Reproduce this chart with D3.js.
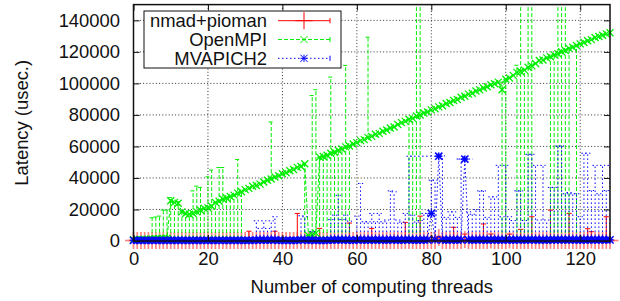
<!DOCTYPE html>
<html>
<head>
<meta charset="utf-8">
<script src="https://cdn.jsdelivr.net/npm/d3@7"></script>
<style>
body { margin: 0; background: #fff; }
text { font-family: "Liberation Sans", Arial, sans-serif; fill: #111; }
</style>
</head>
<body>
<svg id="chart" width="620" height="301"></svg>
<script>
// thread counts on x, one point per thread count
var threads = d3.range(0, 129);
var xTicks = [0, 20, 40, 60, 80, 100, 120];
var yTicks = [0, 20000, 40000, 60000, 80000, 100000, 120000, 140000];

// nmad+pioman mean latency
var npLatency = [
  310, 290, 320, 300, 280, 330, 310, 300, 290, 320, 300, 310, 280, 300, 320, 310,
  300, 290, 310, 320, 300, 280, 310, 300, 330, 300, 290, 310, 300, 320, 310, 350,
  300, 310, 290, 320, 300, 310, 340, 300, 290, 310, 300, 320, 380, 300, 310, 290,
  300, 320, 360, 300, 290, 310, 300, 320, 300, 290, 400, 310, 300, 320, 290, 300,
  350, 300, 310, 290, 320, 300, 310, 300, 290, 380, 300, 310, 320, 390, 300, 290,
  310, 300, 2200, 300, 320, 290, 360, 300, 310, 900, 300, 290, 320, 310, 370, 300,
  700, 290, 320, 300, 310, 700, 300, 290, 360, 300, 310, 380, 300, 290, 320, 310,
  400, 300, 290, 310, 320, 390, 300, 310, 290, 300, 350, 700, 300, 310, 290, 380,
  300
];
// [thread, upper end of error bar]
var npErr = [
  [31, 6200], [38, 6200], [44, 17500], [50, 8000], [58, 11400], [64, 8000],
  [73, 11800], [77, 15800], [82, 3000], [86, 8700], [89, 4400], [94, 10800],
  [96, 4400], [101, 4400], [104, 7400], [107, 15400], [112, 19600], [117, 17500],
  [122, 7800], [123, 5900], [127, 15400]
];

// OpenMPI mean latency
var omLatency = [
  800, 900, 1000, 1100, 1200, 1300, 1400, 1500, 1600, 1700, 25500, 24500, 24000, 18500, 17500, 17000,
  17500, 18500, 19500, 20700, 21000, 22000, 24500, 25200, 26700, 27300, 28200, 29100, 30400, 31300, 32600, 33400,
  34700, 35200, 36100, 37400, 38600, 39300, 40600, 41400, 42700, 43300, 44600, 45400, 46700, 47300, 49000, 3500,
  4000, 5000, 53200, 53600, 54400, 55700, 56300, 57600, 58400, 59700, 60300, 61600, 62400, 63700, 64300, 65600,
  66400, 67700, 68300, 69600, 70400, 71700, 72300, 73900, 75100, 75900, 77200, 77800, 79300, 79900, 81200, 81800,
  83200, 83900, 85100, 85800, 87200, 87900, 89100, 89800, 91200, 91900, 93200, 93800, 95200, 95900, 97100, 97900,
  99100, 99800, 100800, 96000, 102600, 103400, 105100, 107000, 107600, 108400, 110300, 111100, 112600, 114500, 114900, 116200,
  116900, 118100, 118800, 120100, 120900, 122200, 122900, 124000, 125100, 125900, 127100, 127800, 129100, 129800, 130600, 131400,
  132100
];
// [thread, low, high]
var omErr = [
  [5, 1300, 14700], [6, 1400, 15200], [7, 1500, 15800], [8, 1600, 19600], [9, 1700, 19600],
  [10, 1200, 27500], [11, 1200, 24500], [12, 1200, 25000], [13, 1200, 18500], [14, 1200, 17500],
  [15, 1200, 17000], [16, 1200, 31800], [17, 1200, 34800], [18, 1200, 34000], [19, 1200, 20700],
  [20, 1200, 40700], [21, 1200, 45000], [22, 1200, 24500], [23, 1200, 46600], [24, 1200, 46600],
  [25, 1200, 27300], [26, 1200, 28200], [27, 1200, 29100], [28, 1200, 51700], [29, 1200, 31300],
  [37, 39300, 75500],
  [46, 1200, 49000], [47, 1200, 3500], [48, 1200, 92300], [49, 1200, 96000], [50, 1200, 53200],
  [51, 1200, 53600], [52, 1200, 54400], [53, 1200, 104000], [54, 1200, 56300], [55, 1200, 57600],
  [56, 1200, 58400], [57, 1200, 111400], [58, 1200, 60300],
  [63, 65600, 129300],
  [74, 1200, 77200], [75, 1200, 77800], [76, 1200, 200000], [77, 1200, 200000],
  [99, 1200, 100800], [100, 1200, 102600], [103, 1200, 111500], [104, 1200, 200000],
  [105, 1200, 108400], [106, 1200, 200000], [107, 1200, 200000],
  [112, 1200, 116900], [113, 1200, 118100], [114, 1200, 200000], [115, 1200, 200000],
  [116, 1200, 200000], [117, 1200, 122200], [119, 1200, 124000]
];

// MVAPICH2 mean latency
var mvLatency = [
  420, 400, 410, 390, 400, 420, 410, 400, 390, 410, 400, 420, 400, 390, 410, 400,
  400, 410, 420, 400, 390, 410, 400, 420, 400, 410, 390, 400, 410, 400, 420, 400,
  410, 600, 500, 600, 500, 600, 650, 400, 410, 400, 390, 420, 400, 700, 650, 400,
  500, 400, 450, 410, 400, 600, 650, 700, 600, 650, 500, 400, 650, 700, 550, 600,
  650, 600, 650, 600, 550, 700, 700, 550, 500, 650, 700, 600, 550, 600, 650, 650,
  17500, 700, 53800, 700, 600, 650, 650, 600, 700, 52000, 650, 600, 650, 700, 650, 600,
  650, 650, 700, 600, 700, 650, 600, 700, 700, 600, 700, 700, 700, 600, 700, 600,
  700, 700, 750, 750, 700, 700, 650, 700, 600, 700, 700, 700, 650, 700, 650, 700,
  700
];
// [thread, upper end of error bar]
var mvErr = [
  [33, 12800], [34, 8000], [35, 12800], [36, 8000], [37, 12800], [38, 15400], [45, 16000], [46, 15400],
  [48, 5900], [53, 13600], [54, 16400], [55, 29000], [56, 13600], [57, 16400], [58, 12600], [60, 15800],
  [61, 36500], [62, 12200], [63, 12200], [64, 17500], [65, 12200], [66, 17500], [67, 12200], [68, 13300],
  [69, 31800], [70, 31200], [71, 13300], [72, 12000], [73, 17500], [74, 53800], [75, 16400], [76, 12000],
  [77, 13000], [78, 17500], [79, 17500], [80, 38600], [81, 38600], [82, 55000], [83, 54000], [84, 15000],
  [85, 18500], [86, 18500], [87, 15000], [88, 52000], [89, 53500], [90, 18500], [91, 17000], [92, 20000],
  [93, 31800], [94, 31800], [95, 15000], [96, 28000], [97, 28000], [98, 48000], [99, 15400], [100, 48000],
  [101, 15400], [102, 13000], [103, 31800], [104, 31800], [105, 13000], [106, 55000], [107, 55000], [108, 48000],
  [109, 13300], [110, 48000], [111, 13300], [112, 34000], [113, 34000], [114, 60300], [115, 60300], [116, 30000],
  [117, 30800], [118, 30000], [119, 30000], [120, 15400], [121, 55700], [122, 55700], [123, 32000], [124, 48000],
  [125, 30000], [126, 48000], [127, 32000], [128, 48000]
];
// horizontal spans seen on two MVAPICH2 points: [from thread, to thread, latency]
var mvSpan = [[74.3, 82.3, 53800], [86.8, 91.2, 52000]];

var seriesNames = ["nmad+pioman", "OpenMPI", "MVAPICH2"];

var svg = d3.select("#chart");
var plotL = 133.5, plotR = 610, plotT = 4.6, plotB = 241;
var fontPx = 18.4;

var x = d3.scaleLinear().domain([0, 128]).range([plotL, plotR]);
var y = d3.scaleLinear().domain([0, 150000]).range([plotB, plotT]);

svg.append("defs").append("clipPath").attr("id", "plotclip")
  .append("rect").attr("x", plotL).attr("y", plotT).attr("width", plotR - plotL).attr("height", plotB - plotT);

// grid
var grid = svg.append("g").attr("stroke", "#333").attr("stroke-width", 1).attr("stroke-dasharray", "1,2.2");
xTicks.filter(function(d){ return d > 0; }).forEach(function(d){
  grid.append("line").attr("x1", x(d)).attr("x2", x(d)).attr("y1", plotT).attr("y2", plotB);
});
yTicks.filter(function(d){ return d > 0; }).forEach(function(d){
  grid.append("line").attr("x1", plotL).attr("x2", plotR).attr("y1", y(d)).attr("y2", y(d));
});

var capW = 2.6;

function marker(g, kind, cx, cy, color) {
  var s;
  if (kind == "plus") {
    s = 8.5;
    g.append("line").attr("x1", cx - s).attr("x2", cx + s).attr("y1", cy).attr("y2", cy).attr("stroke", color);
    g.append("line").attr("x1", cx).attr("x2", cx).attr("y1", cy - s).attr("y2", cy + s).attr("stroke", color);
  } else if (kind == "cross") {
    s = 3.5;
    g.append("line").attr("x1", cx - s).attr("x2", cx + s).attr("y1", cy - s).attr("y2", cy + s).attr("stroke", color);
    g.append("line").attr("x1", cx - s).attr("x2", cx + s).attr("y1", cy + s).attr("y2", cy - s).attr("stroke", color);
  } else {
    s = 3.6;
    g.append("line").attr("x1", cx - s).attr("x2", cx + s).attr("y1", cy).attr("y2", cy).attr("stroke", color);
    g.append("line").attr("x1", cx).attr("x2", cx).attr("y1", cy - s).attr("y2", cy + s).attr("stroke", color);
    g.append("line").attr("x1", cx - s).attr("x2", cx + s).attr("y1", cy - s).attr("y2", cy + s).attr("stroke", color);
    g.append("line").attr("x1", cx - s).attr("x2", cx + s).attr("y1", cy + s).attr("y2", cy - s).attr("stroke", color);
  }
}

function errBar(g, t, lo, hi, color, dash) {
  var bx = x(t);
  var b = g.append("g").attr("stroke", color).attr("stroke-dasharray", dash);
  b.append("line").attr("x1", bx).attr("x2", bx).attr("y1", y(lo)).attr("y2", y(hi));
  b.append("line").attr("x1", bx - capW).attr("x2", bx + capW).attr("y1", y(hi)).attr("y2", y(hi)).attr("stroke-dasharray", null);
  b.append("line").attr("x1", bx - capW).attr("x2", bx + capW).attr("y1", y(lo)).attr("y2", y(lo)).attr("stroke-dasharray", null);
}

var line = d3.line().x(function(d, i){ return x(threads[i]); }).y(function(d){ return y(d); });

// nmad+pioman
var gNp = svg.append("g");
var gNpClip = gNp.append("g").attr("clip-path", "url(#plotclip)");
npErr.forEach(function(e){ errBar(gNpClip, e[0], npLatency[e[0]], e[1], "#ff0000", null); });
gNpClip.append("path").datum(npLatency).attr("d", line).attr("fill", "none").attr("stroke", "#ff0000");
var gNpPts = gNp.append("g").attr("stroke-opacity", 0.6).attr("stroke-width", 1.7);
npLatency.forEach(function(v, i){ marker(gNpPts, "plus", x(threads[i]), y(v), "#ff3333"); });

// OpenMPI
var gOm = svg.append("g");
var gOmClip = gOm.append("g").attr("clip-path", "url(#plotclip)");
omErr.forEach(function(e){ errBar(gOmClip, e[0], e[1], e[2], "#00ee00", "4,2"); });
gOmClip.append("path").datum(omLatency).attr("d", line).attr("fill", "none")
  .attr("stroke", "#00ee00").attr("stroke-dasharray", "4,2");
var gOmPts = gOm.append("g").attr("stroke-width", 1.3);
omLatency.forEach(function(v, i){ marker(gOmPts, "cross", x(threads[i]), y(v), "#00ee00"); });

// MVAPICH2
var gMv = svg.append("g");
var gMvClip = gMv.append("g").attr("clip-path", "url(#plotclip)");
mvErr.forEach(function(e){ errBar(gMvClip, e[0], mvLatency[e[0]], e[1], "#0000ff", "1.5,2.5"); });
mvSpan.forEach(function(s){
  gMvClip.append("line").attr("x1", x(s[0])).attr("x2", x(s[1])).attr("y1", y(s[2])).attr("y2", y(s[2]))
    .attr("stroke", "#0000ff").attr("stroke-dasharray", "1.5,2.5");
});
gMvClip.append("path").datum(mvLatency).attr("d", line).attr("fill", "none")
  .attr("stroke", "#0000ff").attr("stroke-dasharray", "1.5,2.5");
var gMvPts = gMv.append("g").attr("stroke-width", 1.5);
mvLatency.forEach(function(v, i){ marker(gMvPts, "star", x(threads[i]), y(v), "#0000ff"); });

// axes: labels plus inward ticks on all four sides
function styleAxis(g) {
  g.select(".domain").remove();
  g.attr("font-size", fontPx).attr("font-family", "Liberation Sans, Arial, sans-serif");
  g.selectAll("line").attr("stroke", "#111");
  g.selectAll("text").attr("fill", "#111");
}
svg.append("g").attr("transform", "translate(" + plotL + ",0)")
  .call(d3.axisLeft(y).tickValues(yTicks).tickSizeInner(-6).tickSizeOuter(0).tickPadding(13.5).tickFormat(d3.format("d")))
  .call(styleAxis);
svg.append("g").attr("transform", "translate(" + plotR + ",0)")
  .call(d3.axisRight(y).tickValues(yTicks).tickSizeInner(-6).tickSizeOuter(0).tickFormat(""))
  .call(styleAxis);
svg.append("g").attr("transform", "translate(0," + plotB + ")")
  .call(d3.axisBottom(x).tickValues(xTicks).tickSizeInner(-6).tickSizeOuter(0).tickPadding(11))
  .call(styleAxis);
svg.append("g").attr("transform", "translate(0," + plotT + ")")
  .call(d3.axisTop(x).tickValues(xTicks).tickSizeInner(-6).tickSizeOuter(0).tickFormat(""))
  .call(styleAxis);

svg.append("rect").attr("x", plotL).attr("y", plotT).attr("width", plotR - plotL).attr("height", plotB - plotT)
  .attr("fill", "none").attr("stroke", "#111").attr("stroke-width", 1.5);

// axis titles
svg.append("text").attr("x", (plotL + plotR) / 2).attr("y", 292.5).attr("text-anchor", "middle")
  .attr("font-size", fontPx).text("Number of computing threads");
svg.append("text").attr("transform", "translate(28," + ((plotT + plotB) / 2) + ") rotate(-90)")
  .attr("text-anchor", "middle").attr("font-size", fontPx).text("Latency (usec.)");

// legend
var leg = svg.append("g");
leg.append("rect").attr("x", 144).attr("y", 11).attr("width", 197).attr("height", 57)
  .attr("fill", "#fff").attr("stroke", "#111").attr("stroke-width", 1);
var legColors = ["#ff0000", "#00ee00", "#0000ff"];
var legDash = [null, "4,2", "1.5,2.5"];
var legMarks = ["plus", "cross", "star"];
var legRows = [20.7, 39.5, 58.3];
seriesNames.forEach(function(name, i){
  var cy = legRows[i];
  leg.append("text").attr("x", 267).attr("y", cy + 6.4).attr("text-anchor", "end").attr("font-size", fontPx).text(name);
  leg.append("line").attr("x1", 278).attr("x2", 330).attr("y1", cy).attr("y2", cy)
    .attr("stroke", legColors[i]).attr("stroke-dasharray", legDash[i]);
  leg.append("line").attr("x1", 330).attr("x2", 330).attr("y1", cy - 2.6).attr("y2", cy + 2.6)
    .attr("stroke", legColors[i]);
  marker(leg, legMarks[i], 304, cy, legColors[i]);
});
</script>
</body>
</html>
